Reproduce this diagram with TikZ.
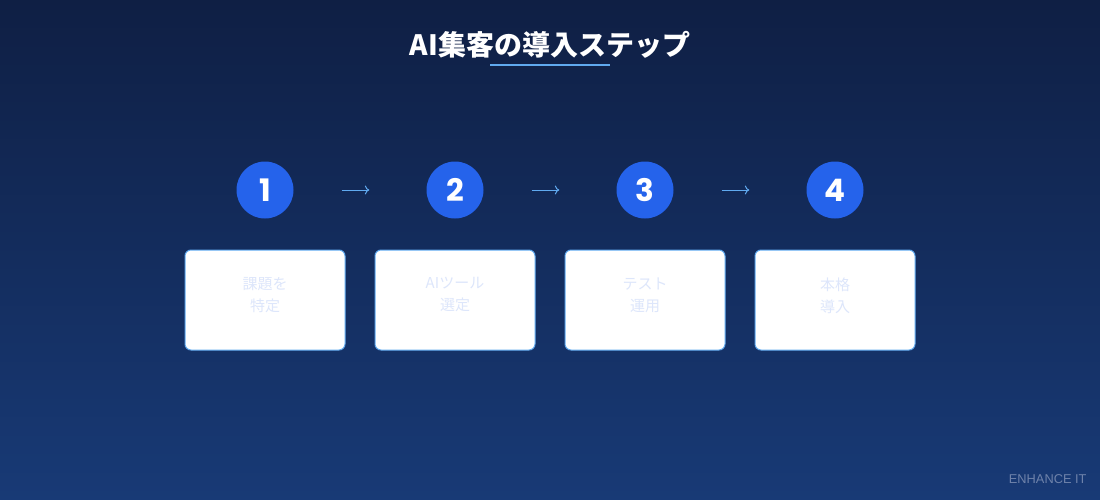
\documentclass[tikz,border=0pt]{standalone}
\usepackage{fontspec}
\setmainfont{Liberation Sans}
\newfontfamily\cjk{Noto Sans CJK JP}
\newfontfamily\digitfont{Poppins}
\usetikzlibrary{arrows.meta}
\definecolor{bgtop}{RGB}{15,31,68}
\definecolor{bgbot}{RGB}{24,58,118}
\definecolor{stepblue}{RGB}{37,99,235}
\definecolor{lineblue}{RGB}{96,170,240}
\definecolor{boxtext}{RGB}{221,230,251}
\definecolor{footgray}{RGB}{110,130,170}
\tikzset{
  stepcircle/.style={circle, fill=stepblue, minimum size=57pt, inner sep=0pt,
    text=white, font=\digitfont\bfseries\fontsize{31}{31}\selectfont},
  stepbox/.style={draw=lineblue, line width=1pt, fill=white, rounded corners=6pt,
    minimum width=160pt, minimum height=100pt, inner sep=0pt},
  boxlabel/.style={text=boxtext, align=center, font=\cjk\fontsize{15}{22}\selectfont},
  steparrow/.style={draw=lineblue, line width=1pt, -{To[length=4.5pt,width=9pt]},
    shorten <=48pt, shorten >=57pt},
}
\begin{document}
\begin{tikzpicture}[x=1pt,y=-1pt]
\shade[top color=bgtop, bottom color=bgbot] (0,0) rectangle (1100,500);
\useasboundingbox (0,0) rectangle (1100,500);
\node[text=white, font=\cjk\bfseries\fontsize{28}{28}\selectfont] (title) at (550,45) {AI集客の導入ステップ};
\coordinate (ulL) at (490,65);
\coordinate (ulR) at (610,65);
\draw[lineblue, line width=2pt] (ulL) -- (ulR);
\foreach \i/\x in {1/265,2/455,3/645,4/835}{
  \node[stepcircle] (c\i) at (\x,190) {\raisebox{-1pt}{\i}};
  \node[stepbox] (b\i) at (\x,300) {};
}
\node[boxlabel, anchor=north] (t1) at (265,274) {課題を\\特定};
\node[boxlabel, anchor=north] (t2) at (455,274) {AIツール\\選定};
\node[boxlabel, anchor=north] (t3) at (645,274) {テスト\\運用};
\node[boxlabel, anchor=north] (t4) at (835,274) {本格\\導入};
\draw[steparrow] (c1) -- (c2);
\draw[steparrow] (c2) -- (c3);
\draw[steparrow] (c3) -- (c4);
\node[text=footgray, font=\fontsize{12.8}{14}\selectfont, anchor=east] (foot) at (1090,479) {ENHANCE IT};
\end{tikzpicture}
\end{document}
